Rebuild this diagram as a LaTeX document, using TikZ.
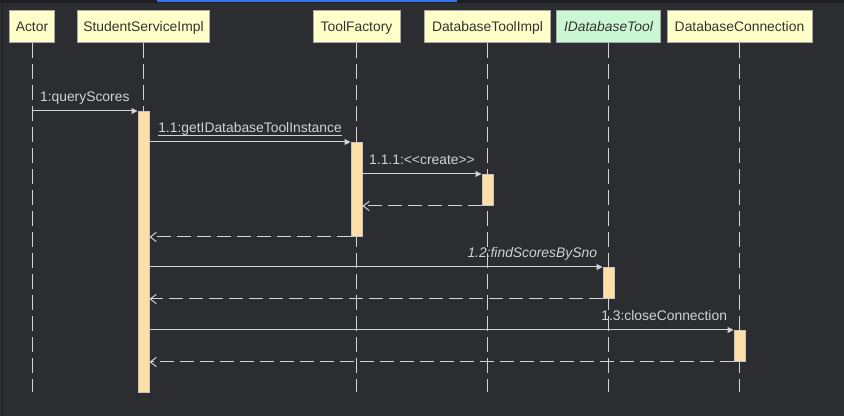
\documentclass[tikz,border=0pt]{standalone}
\usepackage{fontspec}
\usetikzlibrary{arrows.meta}
\newfontfamily\umlfont{Liberation Sans}

\definecolor{canvas}{HTML}{2B2D30}
\definecolor{frame}{HTML}{1E1F22}
\definecolor{tabblue}{HTML}{3574F0}
\definecolor{headfill}{HTML}{FFFFC9}
\definecolor{ifacefill}{HTML}{CCF7D4}
\definecolor{headline}{HTML}{A8A8A8}
\definecolor{headtext}{HTML}{333333}
\definecolor{actfill}{HTML}{FFDFA6}
\definecolor{actline}{HTML}{C4C4C4}
\definecolor{wire}{HTML}{D2D3D6}

\newcommand{\umluline}[1]{\setbox0\hbox{#1}\rlap{\rule[-2.25pt]{\wd0}{0.75pt}}\box0}

\tikzset{
    head/.style={draw=headline, fill=headfill, line width=0.75pt, text=headtext,
        font=\umlfont\fontsize{10.4}{12}\selectfont, minimum height=24pt,
        inner sep=0pt, text height=7.5pt, text depth=0pt},
    act/.style={draw=actline, fill=actfill, line width=0.75pt,
        minimum width=8.25pt, inner sep=0pt, anchor=north},
    life/.style={draw=wire, line width=0.75pt, dash pattern=on 11.25pt off 4.5pt},
    call/.style={draw=wire, line width=0.75pt, -{Triangle[length=4.5pt, width=4.5pt]}},
    ret/.style={draw=wire, line width=0.75pt, dash pattern=on 10.5pt off 4.5pt,
        -{Straight Barb[length=4.5pt, width=7pt]}},
    msg/.style={text=wire, font=\umlfont\fontsize{10.4}{12}\selectfont,
        anchor=base, yshift=6.75pt, inner sep=0pt},
}

\begin{document}
\begin{tikzpicture}[x=0.75pt, y=-0.75pt]
    \useasboundingbox (0,0) rectangle (844,416);
    \fill[canvas] (0,0) rectangle (844,416);
    \fill[frame] (0,0) rectangle (844,3);
    \fill[tabblue] (157,0) rectangle (457,2);
    \fill[frame] (2,0) rectangle (3,416);

    % lifelines
    \node[head, minimum width=33.75pt] (actor) at (32,27) {Actor};
    \node[head, minimum width=99pt] (ssi) at (143.5,27) {StudentServiceImpl};
    \node[head, minimum width=65.25pt] (tf) at (356.5,27) {ToolFactory};
    \node[head, minimum width=94.5pt] (dti) at (487.5,27) {DatabaseToolImpl};
    \node[head, fill=ifacefill, minimum width=78pt] (idt) at (608.5,27) {\itshape IDatabaseTool};
    \node[head, minimum width=108.75pt] (dc) at (739.5,27) {DatabaseConnection};
    \coordinate (life-end) at (0,392);
    \foreach \n in {actor,ssi,tf,dti,idt,dc}
        \draw[life] (\n.south) -- (\n.south |- life-end);

    % activations
    \node[act, minimum height=210.75pt] (ssi-act) at (143.5,111) {};
    \node[act, minimum height=70.5pt] (tf-act) at (356.5,142) {};
    \node[act, minimum height=23.25pt] (dti-act) at (487.5,174) {};
    \node[act, minimum height=23.25pt] (idt-act) at (608.5,267) {};
    \node[act, minimum height=23.25pt] (dc-act) at (739.5,330) {};

    % messages
    \draw[call] (actor |- ssi-act.north) -- node[msg] {1:queryScores} (ssi-act.north west);
    \draw[call] (ssi-act.east |- tf-act.north) -- node[msg] {\umluline{1.1:getIDatabaseToolInstance}} (tf-act.north west);
    \draw[call] (tf-act.east |- dti-act.north) -- node[msg] {1.1.1:<<create>>} (dti-act.north west);
    \draw[ret] (dti-act.south west) -- (tf-act.east |- dti-act.south);
    \draw[ret] (tf-act.south west) -- (ssi-act.east |- tf-act.south);
    \draw[call] (ssi-act.east |- idt-act.north) -- node[msg, pos=1, anchor=base east, xshift=-3.75pt] {\itshape 1.2:findScoresBySno} (idt-act.north west);
    \draw[ret] (idt-act.south west) -- (ssi-act.east |- idt-act.south);
    \draw[call] (ssi-act.east |- dc-act.north) -- node[msg, pos=1, anchor=base east, xshift=-4.5pt] {1.3:closeConnection} (dc-act.north west);
    \draw[ret] (dc-act.south west) -- (ssi-act.east |- dc-act.south);
\end{tikzpicture}
\end{document}
